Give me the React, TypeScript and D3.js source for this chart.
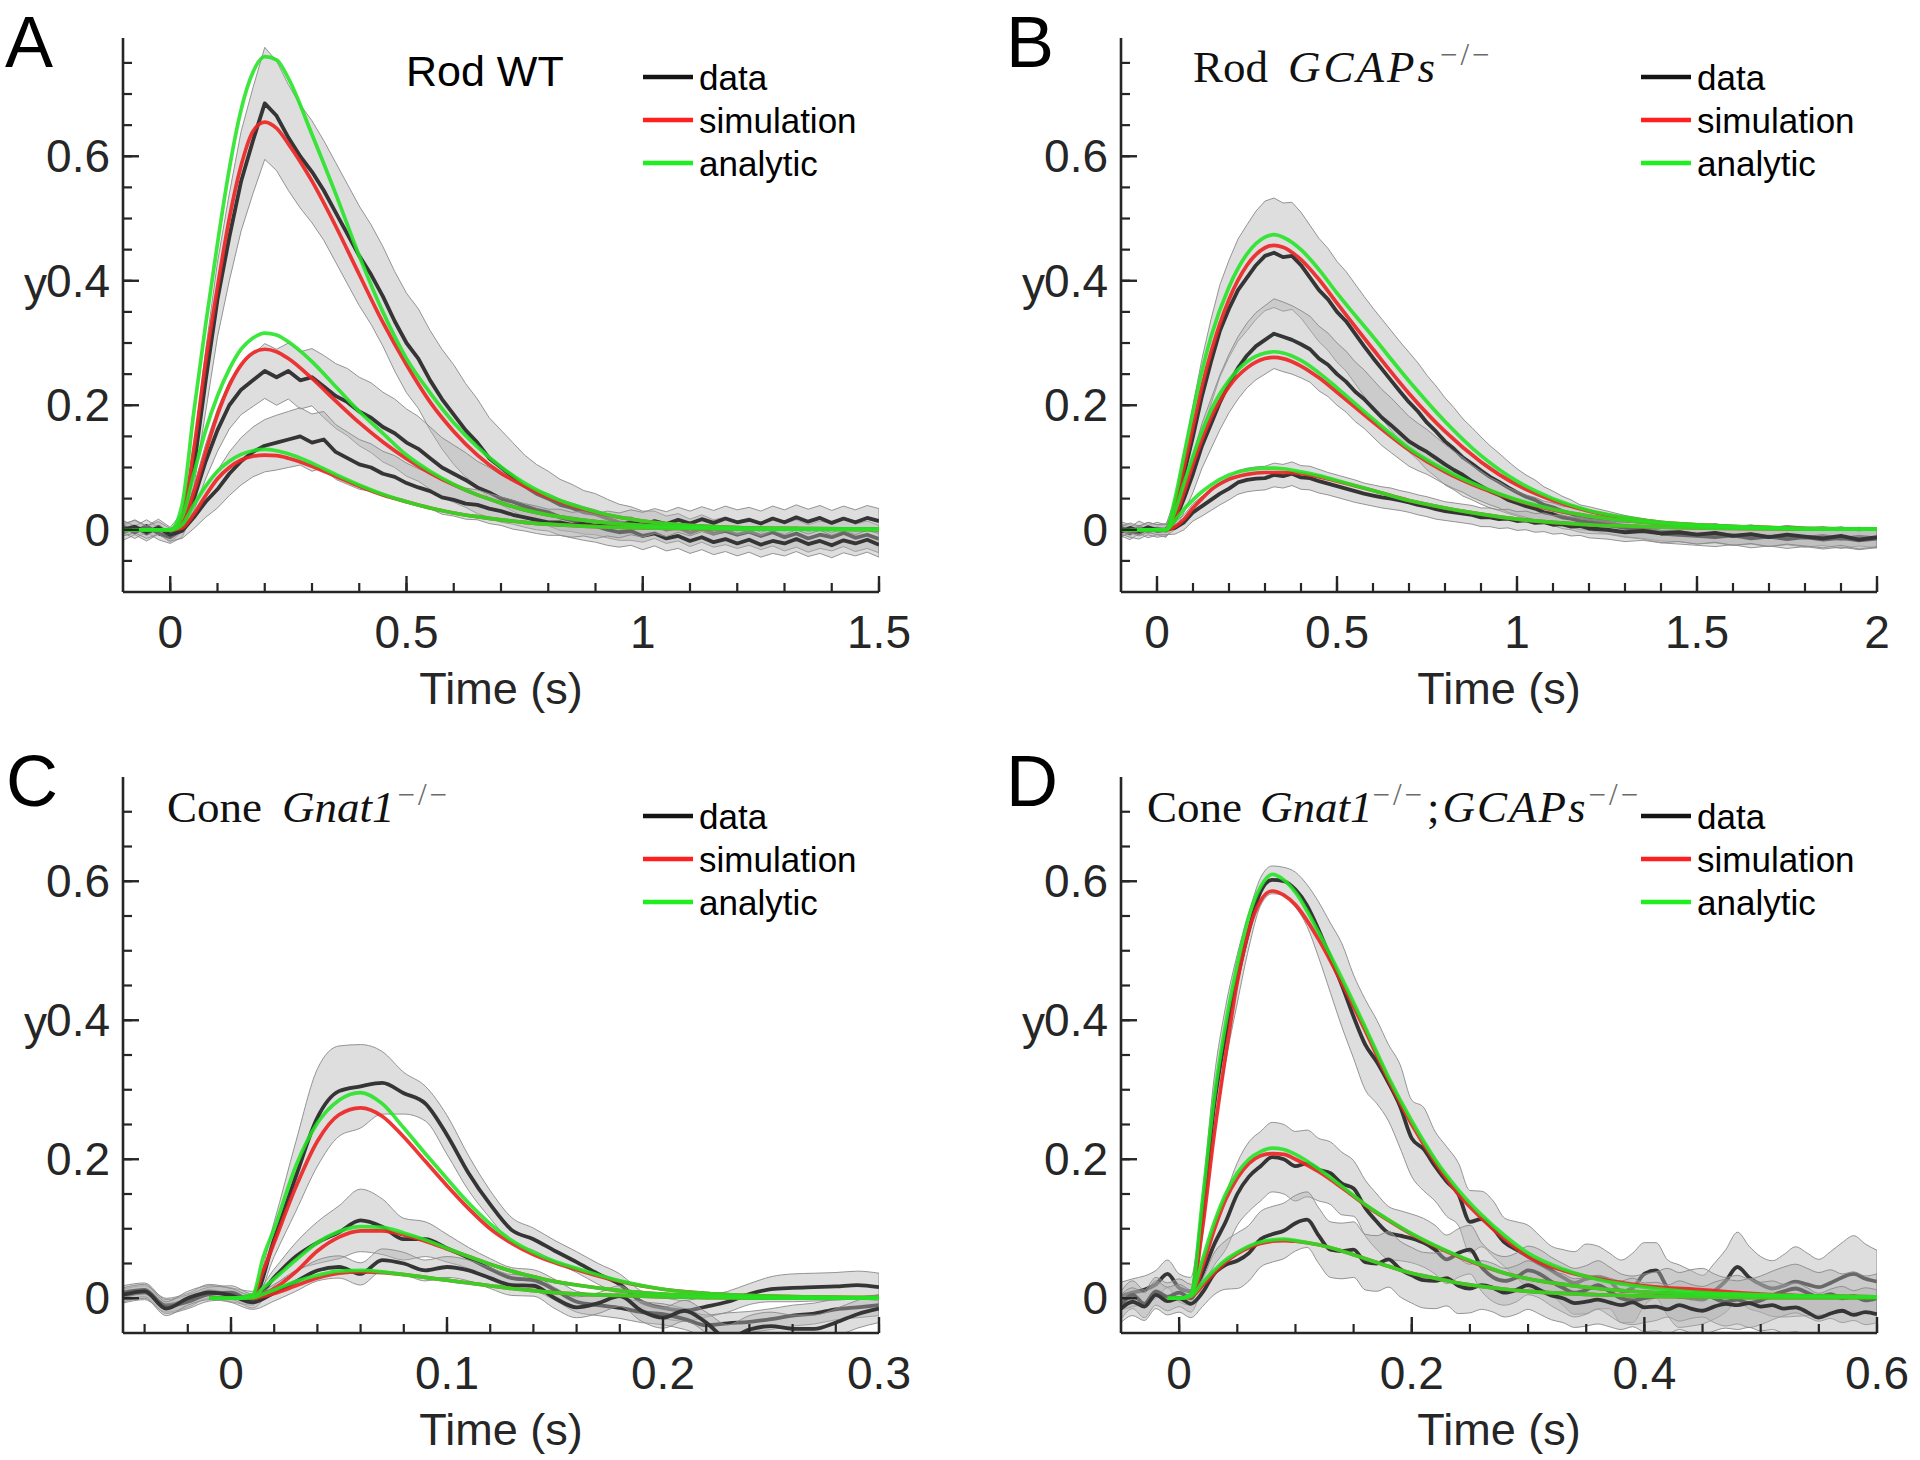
import React from 'react';
import * as d3 from 'd3';

// ---------------- Panel A : Rod WT ----------------
const tA = [
  -0.1, -0.075, -0.05, -0.025, 0, 0.025, 0.05, 0.075, 0.1, 0.125,
  0.15, 0.175, 0.2, 0.225, 0.25, 0.275, 0.3, 0.325, 0.35, 0.375,
  0.4, 0.425, 0.45, 0.475, 0.5, 0.525, 0.55, 0.575, 0.6, 0.625,
  0.65, 0.675, 0.7, 0.725, 0.75, 0.775, 0.8, 0.825, 0.85, 0.875,
  0.9, 0.925, 0.95, 0.975, 1.0, 1.025, 1.05, 1.075, 1.1, 1.125,
  1.15, 1.175, 1.2, 1.225, 1.25, 1.275, 1.3, 1.325, 1.35, 1.375,
  1.4, 1.425, 1.45, 1.475, 1.5,
];
const dataA1 = [
  -0.005, 0.004, -0.006, 0.005, -0.008, 0.012, 0.1, 0.24, 0.37, 0.47,
  0.56, 0.625, 0.685, 0.665, 0.63, 0.6, 0.575, 0.545, 0.51, 0.475,
  0.44, 0.41, 0.375, 0.335, 0.3, 0.275, 0.24, 0.21, 0.185, 0.16,
  0.14, 0.115, 0.1, 0.085, 0.07, 0.058, 0.05, 0.04, 0.035, 0.028,
  0.025, 0.018, 0.012, 0.01, 0.005, 0.008, 0.0, 0.004, -0.005, 0.002,
  -0.006, -0.002, -0.008, -0.003, -0.01, -0.004, -0.012, -0.006, -0.014, -0.008,
  -0.012, -0.005, -0.013, -0.008, -0.015,
];
const semA1 = [
  0.012, 0.012, 0.012, 0.012, 0.012, 0.015, 0.03, 0.05, 0.06, 0.07,
  0.08, 0.085, 0.09, 0.088, 0.085, 0.083, 0.082, 0.08, 0.08, 0.08,
  0.08, 0.08, 0.08, 0.08, 0.08, 0.08, 0.08, 0.08, 0.08, 0.075,
  0.07, 0.065, 0.06, 0.055, 0.05, 0.047, 0.044, 0.041, 0.038, 0.035,
  0.033, 0.031, 0.029, 0.027, 0.025, 0.022, 0.022, 0.022, 0.022, 0.022,
  0.022, 0.022, 0.022, 0.022, 0.022, 0.022, 0.022, 0.022, 0.022, 0.022,
  0.022, 0.022, 0.022, 0.022, 0.022,
];
const dataA2 = [
  0.005, -0.004, 0.006, -0.006, -0.012, 0.0, 0.05, 0.11, 0.16, 0.2,
  0.225, 0.24, 0.255, 0.245, 0.255, 0.24, 0.245, 0.23, 0.215, 0.205,
  0.19, 0.18, 0.165, 0.155, 0.14, 0.13, 0.115, 0.1, 0.09, 0.08,
  0.068, 0.06, 0.05, 0.045, 0.038, 0.032, 0.028, 0.02, 0.015, 0.01,
  0.006, 0.0, -0.004, -0.002, -0.01, -0.006, -0.014, -0.01, -0.018, -0.012,
  -0.02, -0.015, -0.022, -0.016, -0.024, -0.018, -0.022, -0.015, -0.023, -0.018,
  -0.025, -0.017, -0.022, -0.016, -0.024,
];
const semA2 = [
  0.01, 0.01, 0.01, 0.01, 0.01, 0.012, 0.02, 0.028, 0.034, 0.038,
  0.04, 0.042, 0.044, 0.045, 0.045, 0.046, 0.046, 0.05, 0.052, 0.054,
  0.055, 0.056, 0.056, 0.055, 0.054, 0.052, 0.05, 0.048, 0.046, 0.044,
  0.042, 0.04, 0.038, 0.036, 0.034, 0.032, 0.03, 0.029, 0.028, 0.027,
  0.026, 0.025, 0.024, 0.023, 0.022, 0.02, 0.02, 0.02, 0.02, 0.02,
  0.02, 0.02, 0.02, 0.02, 0.02, 0.02, 0.02, 0.02, 0.02, 0.02,
  0.02, 0.02, 0.02, 0.02, 0.02,
];
const dataA3 = [
  0.0, 0.005, -0.004, 0.003, -0.008, -0.002, 0.02, 0.045, 0.065, 0.09,
  0.11, 0.125, 0.135, 0.14, 0.145, 0.15, 0.14, 0.145, 0.125, 0.115,
  0.105, 0.1, 0.09, 0.085, 0.075, 0.068, 0.062, 0.052, 0.048, 0.042,
  0.04, 0.034, 0.03, 0.024, 0.02, 0.016, 0.012, 0.012, 0.008, 0.01,
  0.006, 0.01, 0.007, 0.012, 0.008, 0.014, 0.009, 0.016, 0.01, 0.017,
  0.011, 0.018, 0.012, 0.016, 0.01, 0.018, 0.012, 0.02, 0.013, 0.019,
  0.011, 0.018, 0.012, 0.019, 0.014,
];
const semA3 = [
  0.01, 0.01, 0.01, 0.01, 0.01, 0.012, 0.018, 0.025, 0.03, 0.035,
  0.038, 0.04, 0.042, 0.044, 0.045, 0.046, 0.046, 0.045, 0.044, 0.042,
  0.04, 0.038, 0.036, 0.034, 0.032, 0.03, 0.028, 0.027, 0.026, 0.025,
  0.024, 0.024, 0.023, 0.023, 0.022, 0.022, 0.021, 0.021, 0.02, 0.02,
  0.02, 0.02, 0.02, 0.02, 0.02, 0.02, 0.02, 0.02, 0.02, 0.02,
  0.02, 0.02, 0.02, 0.02, 0.02, 0.02, 0.02, 0.02, 0.02, 0.02,
  0.02, 0.02, 0.02, 0.02, 0.02,
];
const tmA = [-0.1, 0, 0.025, 0.05, 0.075, 0.1, 0.125, 0.15, 0.175, 0.2, 0.225, 0.25, 0.3, 0.35, 0.4, 0.45, 0.5, 0.55, 0.6, 0.65, 0.7, 0.75, 0.8, 0.9, 1.0, 1.1, 1.2, 1.35, 1.5];
const anaA1 = [0, 0, 0.04, 0.19, 0.33, 0.46, 0.58, 0.675, 0.735, 0.76, 0.755, 0.725, 0.635, 0.54, 0.44, 0.35, 0.275, 0.22, 0.172, 0.133, 0.101, 0.075, 0.055, 0.029, 0.014, 0.007, 0.0035, 0.002, 0.001];
const simA1 = [0, 0, 0.02, 0.13, 0.27, 0.39, 0.5, 0.585, 0.64, 0.655, 0.645, 0.62, 0.56, 0.488, 0.41, 0.333, 0.265, 0.205, 0.158, 0.12, 0.091, 0.07, 0.052, 0.028, 0.014, 0.007, 0.0035, 0.002, 0.001];
const anaA2 = [0, 0, 0.02, 0.09, 0.16, 0.215, 0.258, 0.29, 0.308, 0.316, 0.313, 0.302, 0.27, 0.23, 0.19, 0.155, 0.12, 0.094, 0.073, 0.056, 0.043, 0.032, 0.024, 0.013, 0.007, 0.004, 0.002, 0.001, 0.001];
const simA2 = [0, 0, 0.01, 0.06, 0.125, 0.185, 0.232, 0.265, 0.284, 0.29, 0.286, 0.275, 0.243, 0.207, 0.172, 0.141, 0.114, 0.091, 0.072, 0.056, 0.043, 0.032, 0.024, 0.013, 0.007, 0.004, 0.002, 0.001, 0.001];
const anaA3 = [0, 0, 0.008, 0.04, 0.07, 0.094, 0.11, 0.121, 0.127, 0.129, 0.127, 0.122, 0.107, 0.089, 0.072, 0.057, 0.045, 0.035, 0.027, 0.021, 0.016, 0.012, 0.009, 0.005, 0.003, 0.002, 0.001, 0.001, 0];
const simA3 = [0, 0, 0.003, 0.025, 0.055, 0.082, 0.1, 0.112, 0.118, 0.12, 0.119, 0.115, 0.102, 0.086, 0.07, 0.056, 0.045, 0.035, 0.027, 0.021, 0.016, 0.012, 0.009, 0.005, 0.003, 0.002, 0.001, 0.001, 0];

// ---------------- Panel B : Rod GCAPs-/- ----------------
const tB = [
  -0.1, -0.075, -0.05, -0.025, 0, 0.025, 0.05, 0.075, 0.1, 0.125,
  0.15, 0.175, 0.2, 0.225, 0.25, 0.275, 0.3, 0.325, 0.35, 0.375,
  0.4, 0.425, 0.45, 0.475, 0.5, 0.525, 0.55, 0.575, 0.6, 0.625,
  0.65, 0.675, 0.7, 0.725, 0.75, 0.775, 0.8, 0.825, 0.85, 0.875,
  0.9, 0.925, 0.95, 0.975, 1.0, 1.025, 1.05, 1.075, 1.1, 1.125,
  1.15, 1.175, 1.2, 1.25, 1.3, 1.35, 1.4, 1.45, 1.5, 1.55,
  1.6, 1.65, 1.7, 1.75, 1.8, 1.85, 1.9, 1.95, 2.0,
];
const dataB1 = [
  0.0, -0.006, 0.004, -0.003, 0.002, -0.002, 0.03, 0.09, 0.15, 0.215,
  0.27, 0.32, 0.355, 0.385, 0.405, 0.425, 0.44, 0.445, 0.438, 0.44,
  0.425, 0.405, 0.385, 0.37, 0.35, 0.335, 0.315, 0.295, 0.276, 0.258,
  0.24, 0.222, 0.205, 0.19, 0.172, 0.158, 0.142, 0.13, 0.116, 0.106,
  0.095, 0.085, 0.077, 0.068, 0.06, 0.053, 0.048, 0.04, 0.036, 0.03,
  0.026, 0.02, 0.018, 0.012, 0.006, 0.002, -0.003, -0.004, -0.008, -0.006,
  -0.01, -0.008, -0.012, -0.009, -0.013, -0.01, -0.015, -0.011, -0.014,
];
const semB1 = [
  0.01, 0.01, 0.01, 0.01, 0.01, 0.01, 0.02, 0.035, 0.05, 0.06,
  0.068, 0.074, 0.078, 0.082, 0.085, 0.087, 0.088, 0.088, 0.087, 0.086,
  0.085, 0.084, 0.083, 0.082, 0.081, 0.08, 0.08, 0.08, 0.08, 0.08,
  0.08, 0.08, 0.08, 0.078, 0.076, 0.073, 0.07, 0.066, 0.062, 0.058,
  0.054, 0.05, 0.046, 0.042, 0.038, 0.035, 0.032, 0.029, 0.026, 0.024,
  0.022, 0.02, 0.019, 0.018, 0.017, 0.016, 0.015, 0.015, 0.015, 0.015,
  0.015, 0.015, 0.015, 0.015, 0.015, 0.015, 0.015, 0.015, 0.015,
];
const dataB2 = [
  0.003, -0.002, -0.005, 0.002, -0.002, 0.0, 0.015, 0.05, 0.09, 0.135,
  0.17, 0.205, 0.235, 0.26, 0.28, 0.295, 0.305, 0.315, 0.31, 0.305,
  0.298, 0.29, 0.275, 0.265, 0.25, 0.238, 0.222, 0.21, 0.195, 0.18,
  0.168, 0.155, 0.142, 0.133, 0.125, 0.115, 0.105, 0.096, 0.088, 0.078,
  0.07, 0.062, 0.056, 0.048, 0.043, 0.038, 0.034, 0.028, 0.025, 0.02,
  0.018, 0.014, 0.012, 0.008, 0.003, 0.0, -0.006, -0.008, -0.01, -0.012,
  -0.009, -0.014, -0.011, -0.015, -0.012, -0.016, -0.013, -0.017, -0.014,
];
const semB2 = [
  0.01, 0.01, 0.01, 0.01, 0.01, 0.01, 0.015, 0.022, 0.03, 0.036,
  0.04, 0.044, 0.047, 0.05, 0.052, 0.054, 0.055, 0.056, 0.056, 0.055,
  0.054, 0.053, 0.052, 0.051, 0.05, 0.049, 0.048, 0.047, 0.046, 0.045,
  0.044, 0.042, 0.04, 0.038, 0.036, 0.034, 0.032, 0.03, 0.028, 0.026,
  0.024, 0.022, 0.021, 0.02, 0.019, 0.018, 0.018, 0.018, 0.018, 0.018,
  0.018, 0.018, 0.018, 0.015, 0.015, 0.015, 0.015, 0.015, 0.015, 0.015,
  0.015, 0.015, 0.015, 0.015, 0.015, 0.015, 0.015, 0.015, 0.015,
];
const dataB3 = [
  -0.003, 0.003, -0.002, 0.004, 0.0, 0.0, 0.003, 0.012, 0.028, 0.038,
  0.048, 0.058, 0.066, 0.076, 0.08, 0.082, 0.083, 0.088, 0.086, 0.09,
  0.084, 0.083, 0.078, 0.074, 0.07, 0.066, 0.062, 0.058, 0.055, 0.052,
  0.05, 0.047, 0.044, 0.04, 0.037, 0.033, 0.03, 0.028, 0.026, 0.024,
  0.02, 0.02, 0.017, 0.018, 0.014, 0.015, 0.011, 0.012, 0.008, 0.009,
  0.005, 0.006, 0.002, 0.0, -0.004, -0.002, -0.006, -0.004, -0.008, -0.005,
  -0.01, -0.007, -0.012, -0.008, -0.011, -0.014, -0.01, -0.016, -0.012,
];
const semB3 = [
  0.008, 0.008, 0.008, 0.008, 0.008, 0.008, 0.01, 0.012, 0.014, 0.016,
  0.017, 0.018, 0.018, 0.019, 0.019, 0.019, 0.019, 0.019, 0.019, 0.019,
  0.019, 0.019, 0.019, 0.018, 0.018, 0.018, 0.018, 0.017, 0.017, 0.017,
  0.017, 0.016, 0.016, 0.016, 0.016, 0.016, 0.015, 0.015, 0.015, 0.015,
  0.015, 0.015, 0.015, 0.015, 0.015, 0.015, 0.015, 0.015, 0.015, 0.015,
  0.015, 0.015, 0.015, 0.015, 0.015, 0.015, 0.015, 0.015, 0.015, 0.015,
  0.015, 0.015, 0.015, 0.015, 0.015, 0.015, 0.015, 0.015, 0.015,
];
const tmB = [-0.1, 0, 0.025, 0.05, 0.075, 0.1, 0.125, 0.15, 0.2, 0.25, 0.3, 0.325, 0.35, 0.4, 0.45, 0.5, 0.6, 0.7, 0.8, 0.9, 1.0, 1.1, 1.2, 1.3, 1.4, 1.5, 1.6, 1.8, 2.0];
const anaB1 = [0, 0, 0, 0.05, 0.12, 0.19, 0.255, 0.31, 0.39, 0.443, 0.47, 0.474, 0.47, 0.45, 0.418, 0.38, 0.31, 0.239, 0.174, 0.119, 0.078, 0.05, 0.031, 0.02, 0.012, 0.008, 0.005, 0.002, 0.001];
const simB1 = [0, 0, 0, 0.04, 0.1, 0.165, 0.23, 0.285, 0.37, 0.425, 0.453, 0.457, 0.454, 0.434, 0.402, 0.364, 0.29, 0.219, 0.158, 0.109, 0.072, 0.047, 0.03, 0.019, 0.012, 0.008, 0.005, 0.002, 0.001];
const anaB2 = [0, 0, 0, 0.03, 0.075, 0.118, 0.158, 0.192, 0.24, 0.27, 0.284, 0.286, 0.284, 0.272, 0.252, 0.228, 0.178, 0.131, 0.096, 0.069, 0.048, 0.033, 0.022, 0.015, 0.01, 0.007, 0.005, 0.002, 0.001];
const simB2 = [0, 0, 0, 0.02, 0.06, 0.105, 0.145, 0.18, 0.23, 0.26, 0.275, 0.277, 0.275, 0.263, 0.244, 0.221, 0.173, 0.128, 0.093, 0.067, 0.047, 0.032, 0.022, 0.015, 0.01, 0.007, 0.005, 0.002, 0.001];
const anaB3 = [0, 0, 0, 0.015, 0.033, 0.048, 0.061, 0.072, 0.088, 0.096, 0.099, 0.099, 0.098, 0.093, 0.087, 0.079, 0.063, 0.047, 0.035, 0.025, 0.017, 0.012, 0.008, 0.006, 0.004, 0.003, 0.002, 0.001, 0.001];
const simB3 = [0, 0, 0, 0.005, 0.017, 0.035, 0.05, 0.064, 0.081, 0.089, 0.092, 0.092, 0.092, 0.09, 0.085, 0.078, 0.063, 0.047, 0.035, 0.025, 0.017, 0.012, 0.008, 0.006, 0.004, 0.003, 0.002, 0.001, 0.001];

// ---------------- Panel C : Cone Gnat1-/- ----------------
const tC = [
  -0.05, -0.04, -0.03, -0.02, -0.01, 0, 0.01, 0.02, 0.03, 0.04,
  0.05, 0.06, 0.07, 0.08, 0.09, 0.1, 0.11, 0.12, 0.13, 0.14,
  0.15, 0.16, 0.17, 0.18, 0.19, 0.2, 0.21, 0.22, 0.23, 0.24,
  0.25, 0.26, 0.27, 0.28, 0.29, 0.3,
];
const dataC1 = [
  0.003, 0.008, -0.01, -0.003, 0.01, 0.005, 0.0, 0.085, 0.175, 0.26,
  0.298, 0.305, 0.31, 0.295, 0.28, 0.235, 0.18, 0.135, 0.098, 0.085,
  0.068, 0.052, 0.035, 0.02, -0.005, -0.014, -0.018, -0.012, -0.005, 0.006,
  0.013, 0.015, 0.016, 0.017, 0.019, 0.016,
];
const semC1 = [
  0.01, 0.01, 0.01, 0.01, 0.01, 0.01, 0.01, 0.025, 0.05, 0.07,
  0.065, 0.06, 0.045, 0.03, 0.025, 0.028, 0.025, 0.02, 0.018, 0.016,
  0.015, 0.015, 0.015, 0.015, 0.015, 0.015, 0.015, 0.015, 0.015, 0.015,
  0.018, 0.02, 0.02, 0.02, 0.02, 0.02,
];
const dataC2 = [
  0.008, 0.012, -0.012, -0.005, 0.006, 0.008, -0.004, 0.03, 0.06, 0.08,
  0.095, 0.112, 0.103, 0.085, 0.085, 0.072, 0.058, 0.042, 0.029, 0.026,
  0.012, -0.005, -0.01, -0.014, -0.02, -0.023, -0.03, -0.039, -0.036, -0.034,
  -0.03, -0.025, -0.022, -0.016, -0.013, -0.01,
];
const semC2 = [
  0.01, 0.01, 0.01, 0.01, 0.01, 0.01, 0.01, 0.012, 0.02, 0.03,
  0.038, 0.045, 0.04, 0.03, 0.025, 0.02, 0.015, 0.015, 0.015, 0.015,
  0.015, 0.015, 0.015, 0.015, 0.015, 0.015, 0.015, 0.015, 0.015, 0.015,
  0.015, 0.015, 0.015, 0.015, 0.015, 0.015,
];
const dataC3 = [
  0.005, 0.01, -0.015, 0.0, 0.008, 0.004, -0.006, 0.008, 0.024, 0.04,
  0.045, 0.035, 0.055, 0.05, 0.04, 0.045, 0.04, 0.029, 0.019, 0.018,
  0.0, -0.013, -0.007, 0.003, -0.018, -0.028, -0.018, -0.035, -0.058, -0.045,
  -0.04, -0.044, -0.044, -0.035, -0.023, -0.015,
];
const semC3 = [
  0.01, 0.01, 0.01, 0.01, 0.01, 0.01, 0.01, 0.012, 0.014, 0.015,
  0.016, 0.016, 0.016, 0.016, 0.015, 0.015, 0.015, 0.015, 0.015, 0.015,
  0.015, 0.015, 0.015, 0.015, 0.015, 0.015, 0.015, 0.015, 0.02, 0.02,
  0.02, 0.02, 0.02, 0.02, 0.02, 0.02,
];
const tmC = [-0.01, 0, 0.01, 0.015, 0.02, 0.03, 0.04, 0.05, 0.06, 0.07, 0.08, 0.09, 0.1, 0.11, 0.12, 0.13, 0.14, 0.15, 0.16, 0.18, 0.2, 0.22, 0.25, 0.3];
const anaC1 = [0, 0, 0.005, 0.06, 0.1, 0.19, 0.252, 0.285, 0.296, 0.28, 0.245, 0.208, 0.172, 0.137, 0.107, 0.083, 0.066, 0.053, 0.043, 0.025, 0.013, 0.007, 0.003, 0.001];
const simC1 = [0, 0, 0.003, 0.04, 0.08, 0.16, 0.226, 0.264, 0.274, 0.262, 0.232, 0.197, 0.162, 0.129, 0.1, 0.079, 0.063, 0.051, 0.041, 0.024, 0.013, 0.007, 0.003, 0.001];
const anaC2 = [0, 0, 0.002, 0.015, 0.028, 0.055, 0.08, 0.096, 0.103, 0.102, 0.094, 0.084, 0.072, 0.06, 0.049, 0.039, 0.031, 0.024, 0.019, 0.011, 0.006, 0.003, 0.001, 0];
const simC2 = [0, 0, 0.001, 0.006, 0.014, 0.038, 0.068, 0.088, 0.097, 0.097, 0.091, 0.082, 0.071, 0.06, 0.049, 0.039, 0.031, 0.024, 0.019, 0.011, 0.006, 0.003, 0.001, 0];
const anaC3 = [0, 0, 0.001, 0.006, 0.012, 0.024, 0.033, 0.039, 0.04, 0.038, 0.034, 0.03, 0.026, 0.022, 0.018, 0.014, 0.011, 0.008, 0.006, 0.004, 0.002, 0.001, 0, 0];
const simC3 = [0, 0, 0, 0.003, 0.007, 0.018, 0.029, 0.036, 0.038, 0.037, 0.034, 0.03, 0.026, 0.022, 0.018, 0.014, 0.011, 0.008, 0.006, 0.004, 0.002, 0.001, 0, 0];

// ---------------- Panel D : Cone Gnat1-/-;GCAPs-/- ----------------
const tD = [
  -0.05, -0.04, -0.03, -0.02, -0.01, 0, 0.01, 0.02, 0.03, 0.04,
  0.05, 0.06, 0.07, 0.08, 0.09, 0.1, 0.11, 0.12, 0.13, 0.14,
  0.15, 0.16, 0.17, 0.18, 0.19, 0.2, 0.21, 0.22, 0.23, 0.24,
  0.25, 0.26, 0.27, 0.28, 0.29, 0.3, 0.31, 0.32, 0.33, 0.34,
  0.35, 0.36, 0.37, 0.38, 0.39, 0.4, 0.41, 0.42, 0.43, 0.44,
  0.45, 0.46, 0.47, 0.48, 0.49, 0.5, 0.51, 0.52, 0.53, 0.54,
  0.55, 0.56, 0.57, 0.58, 0.59, 0.6,
];
const dataD1 = [
  0.003, 0.008, 0.012, 0.02, 0.035, 0.015, 0.01, 0.12, 0.276, 0.38,
  0.46, 0.53, 0.585, 0.602, 0.6, 0.588, 0.565, 0.53, 0.49, 0.45,
  0.405, 0.365, 0.34, 0.31, 0.276, 0.23, 0.215, 0.19, 0.168, 0.15,
  0.11, 0.114, 0.1, 0.08, 0.07, 0.06, 0.05, 0.04, 0.03, 0.022,
  0.028, 0.03, 0.025, 0.01, 0.015, 0.035, 0.04, 0.015, 0.003, 0.0,
  -0.002, 0.01, 0.025, 0.045, 0.03, 0.02, 0.014, 0.018, 0.024, 0.02,
  0.016, 0.022, 0.03, 0.035, 0.028, 0.024,
];
const semD1 = [
  0.02, 0.02, 0.02, 0.02, 0.02, 0.02, 0.02, 0.03, 0.04, 0.04,
  0.035, 0.025, 0.02, 0.02, 0.02, 0.025, 0.03, 0.04, 0.05, 0.06,
  0.06, 0.065, 0.06, 0.055, 0.06, 0.055, 0.06, 0.05, 0.05, 0.045,
  0.045, 0.04, 0.04, 0.035, 0.04, 0.045, 0.04, 0.035, 0.04, 0.045,
  0.05, 0.045, 0.04, 0.045, 0.05, 0.045, 0.04, 0.04, 0.045, 0.04,
  0.035, 0.04, 0.045, 0.05, 0.045, 0.04, 0.04, 0.045, 0.05, 0.045,
  0.04, 0.045, 0.05, 0.055, 0.05, 0.045,
];
const dataD2 = [
  -0.01, 0.005, -0.008, 0.01, 0.002, 0.008, 0.0, 0.035, 0.077, 0.11,
  0.15, 0.175, 0.19, 0.203, 0.2, 0.19, 0.194, 0.185, 0.18, 0.165,
  0.158, 0.13, 0.11, 0.094, 0.09, 0.086, 0.08, 0.07, 0.056, 0.065,
  0.07, 0.045, 0.03, 0.025, 0.03, 0.04, 0.035, 0.024, 0.015, 0.008,
  0.012, 0.019, 0.01, 0.0, -0.003, 0.0, 0.003, 0.008, 0.002, 0.006,
  0.008, 0.0, -0.005, -0.002, -0.007, -0.003, 0.004, 0.01, 0.014, 0.008,
  0.002, 0.006, 0.0, 0.003, -0.003, 0.0,
];
const semD2 = [
  0.02, 0.02, 0.02, 0.02, 0.02, 0.02, 0.02, 0.02, 0.03, 0.04,
  0.045, 0.05, 0.05, 0.05, 0.05, 0.05, 0.048, 0.045, 0.045, 0.045,
  0.04, 0.04, 0.04, 0.038, 0.036, 0.035, 0.035, 0.035, 0.035, 0.035,
  0.035, 0.035, 0.035, 0.035, 0.035, 0.035, 0.035, 0.035, 0.035, 0.035,
  0.035, 0.035, 0.035, 0.035, 0.035, 0.035, 0.035, 0.035, 0.035, 0.035,
  0.035, 0.035, 0.035, 0.035, 0.035, 0.035, 0.035, 0.035, 0.035, 0.035,
  0.035, 0.035, 0.035, 0.035, 0.035, 0.035,
];
const dataD3 = [
  -0.015, -0.005, -0.012, 0.005, -0.004, 0.0, -0.008, 0.008, 0.035, 0.048,
  0.054, 0.065, 0.085, 0.092, 0.097, 0.108, 0.113, 0.09, 0.07, 0.068,
  0.07, 0.052, 0.05, 0.056, 0.042, 0.033, 0.026, 0.025, 0.029, 0.018,
  0.014, 0.019, 0.015, 0.008, 0.012, 0.019, 0.012, 0.004, 0.0, -0.007,
  -0.005, -0.002, -0.006, -0.01, -0.006, -0.013, -0.012, -0.016, -0.01, -0.015,
  -0.018, -0.012, -0.008, -0.01, -0.007, -0.012, -0.01, -0.015, -0.013, -0.02,
  -0.028, -0.022, -0.018, -0.024, -0.02, -0.023,
];
const semD3 = [
  0.02, 0.02, 0.02, 0.02, 0.02, 0.02, 0.02, 0.02, 0.03, 0.035,
  0.04, 0.04, 0.04, 0.04, 0.04, 0.04, 0.04, 0.04, 0.04, 0.04,
  0.04, 0.04, 0.04, 0.04, 0.04, 0.04, 0.04, 0.04, 0.04, 0.04,
  0.035, 0.035, 0.035, 0.035, 0.035, 0.035, 0.035, 0.035, 0.035, 0.035,
  0.035, 0.035, 0.035, 0.035, 0.035, 0.035, 0.035, 0.035, 0.035, 0.035,
  0.035, 0.035, 0.035, 0.035, 0.035, 0.035, 0.035, 0.035, 0.035, 0.035,
  0.035, 0.035, 0.035, 0.035, 0.035, 0.035,
];
const tmD = [-0.01, 0, 0.01, 0.02, 0.03, 0.04, 0.05, 0.06, 0.07, 0.08, 0.09, 0.1, 0.12, 0.14, 0.16, 0.18, 0.2, 0.22, 0.24, 0.26, 0.28, 0.3, 0.33, 0.36, 0.4, 0.45, 0.5, 0.6];
const anaD1 = [0, 0, 0.005, 0.14, 0.287, 0.395, 0.48, 0.55, 0.592, 0.61, 0.602, 0.584, 0.526, 0.46, 0.39, 0.318, 0.255, 0.2, 0.156, 0.12, 0.09, 0.065, 0.042, 0.027, 0.016, 0.008, 0.005, 0.002];
const simD1 = [0, 0, 0.003, 0.1, 0.234, 0.35, 0.455, 0.53, 0.572, 0.586, 0.58, 0.566, 0.516, 0.453, 0.385, 0.314, 0.25, 0.196, 0.15, 0.115, 0.085, 0.06, 0.04, 0.028, 0.018, 0.012, 0.006, 0.002];
const anaD2 = [0, 0, 0.005, 0.055, 0.108, 0.15, 0.18, 0.2, 0.211, 0.216, 0.214, 0.207, 0.186, 0.161, 0.135, 0.113, 0.093, 0.076, 0.061, 0.048, 0.036, 0.028, 0.02, 0.014, 0.009, 0.006, 0.004, 0.002];
const simD2 = [0, 0, 0.003, 0.045, 0.098, 0.142, 0.173, 0.194, 0.205, 0.208, 0.207, 0.2, 0.182, 0.159, 0.134, 0.112, 0.092, 0.075, 0.06, 0.047, 0.036, 0.028, 0.02, 0.014, 0.009, 0.006, 0.004, 0.002];
const anaD3 = [0, 0, 0.003, 0.022, 0.04, 0.055, 0.066, 0.075, 0.081, 0.084, 0.085, 0.083, 0.077, 0.068, 0.057, 0.046, 0.036, 0.029, 0.022, 0.017, 0.013, 0.01, 0.007, 0.005, 0.003, 0.002, 0.001, 0.001];
const simD3 = [0, 0, 0.002, 0.018, 0.036, 0.052, 0.064, 0.073, 0.079, 0.082, 0.083, 0.082, 0.077, 0.068, 0.057, 0.046, 0.036, 0.029, 0.022, 0.017, 0.013, 0.01, 0.007, 0.005, 0.003, 0.002, 0.001, 0.001];

// ---------------- axes / labels ----------------
const yTickVals = [0, 0.2, 0.4, 0.6];
const yTickLabels = ['0', '0.2', '0.4', '0.6'];
const xTicksA = [0, 0.5, 1, 1.5];
const xLabelsA = ['0', '0.5', '1', '1.5'];
const xTicksB = [0, 0.5, 1, 1.5, 2];
const xLabelsB = ['0', '0.5', '1', '1.5', '2'];
const xTicksC = [0, 0.1, 0.2, 0.3];
const xLabelsC = ['0', '0.1', '0.2', '0.3'];
const xTicksD = [0, 0.2, 0.4, 0.6];
const xLabelsD = ['0', '0.2', '0.4', '0.6'];
const legendLabels = ['data', 'simulation', 'analytic'];

const SANS = "'Liberation Sans', Arial, Helvetica, sans-serif";
const SERIF = "'Liberation Serif', 'Times New Roman', serif";
const AX = '#262626';
const BAND = '#b0b0b0';
const BAND_EDGE = '#8a8a8a';
const DATA = '#353535';
const SIM = '#ec2525';
const ANA = '#22e422';
const LEG_COLORS = ['#141414', '#ff1f1f', '#1fee1f'];

function rangeSteps(a: number, b: number, s: number) {
  const out: number[] = [];
  const n = Math.round((b - a) / s);
  for (let i = 0; i <= n; i++) out.push(+(a + i * s).toFixed(6));
  return out;
}

const SUP = { fontSize: 31, fill: '#6a6a6a', letterSpacing: 3, fontStyle: 'normal' as const };

function Panel({ cfg }: { cfg: any }) {
  const { L, R, T, B, id } = cfg;
  const x = d3.scaleLinear().domain(cfg.xDom).range([L, R]);
  const y = d3.scaleLinear().domain(cfg.yDom).range([B, T]);
  const dCurve = cfg.smooth ? d3.curveMonotoneX : d3.curveLinear;
  const lineOf = (ts: number[], vs: number[], curve: any) =>
    d3.line<number>().x((_d, i) => x(ts[i])).y((d) => y(d)).curve(curve)(vs) || '';
  const areaOf = (ts: number[], vs: number[], ss: number[]) =>
    d3.area<number>()
      .x((_d, i) => x(ts[i]))
      .y0((d, i) => y(d - ss[i]))
      .y1((d, i) => y(d + ss[i]))
      .curve(dCurve)(vs) || '';

  const xMinor = rangeSteps(cfg.xMinor[0], cfg.xMinor[1], cfg.xMinor[2]);
  const yMinor = rangeSteps(cfg.yMinor[0], cfg.yMinor[1], cfg.yMinor[2]);
  const MAJ = 16, MIN = 9;

  return (
    <g>
      <defs>
        <clipPath id={`clip-${id}`}>
          <rect x={L} y={T} width={R - L} height={B - T} />
        </clipPath>
      </defs>
      <g clipPath={`url(#clip-${id})`}>
        {cfg.data.map((vs: number[], k: number) => (
          <g key={`d${k}`}>
            <path d={areaOf(cfg.t, vs, cfg.sem[k])} fill={BAND} fillOpacity={0.42} stroke={BAND_EDGE} strokeWidth={1} strokeOpacity={0.9} />
            <path d={lineOf(cfg.t, vs, dCurve)} fill="none" stroke={DATA} strokeWidth={3.8} strokeLinejoin="round" />
          </g>
        ))}
        {cfg.sim.map((vs: number[], k: number) => (
          <path key={`s${k}`} d={lineOf(cfg.tm, vs, d3.curveMonotoneX)} fill="none" stroke={SIM} strokeWidth={3.7} strokeOpacity={0.92} />
        ))}
        {cfg.ana.map((vs: number[], k: number) => (
          <path key={`a${k}`} d={lineOf(cfg.tm, vs, d3.curveMonotoneX)} fill="none" stroke={ANA} strokeWidth={3.7} strokeOpacity={0.88} />
        ))}
      </g>

      {/* axes */}
      <line x1={L} x2={L} y1={T} y2={B} stroke={AX} strokeWidth={2.6} />
      <line x1={L} x2={R} y1={B} y2={B} stroke={AX} strokeWidth={2.6} />
      {xMinor.filter((v) => v > cfg.xDom[0] + 1e-6).map((v) => (
        <line key={`xm${v}`} x1={x(v)} x2={x(v)} y1={B} y2={B - MIN} stroke={AX} strokeWidth={2.2} />
      ))}
      {cfg.xTicks.map((v: number, i: number) => (
        <g key={`xt${v}`}>
          <line x1={x(v)} x2={x(v)} y1={B} y2={B - MAJ} stroke={AX} strokeWidth={2.4} />
          <text x={x(v)} y={B + 56} textAnchor="middle" fontFamily={SANS} fontSize={46} fill={AX}>{cfg.xLabels[i]}</text>
        </g>
      ))}
      {yMinor.filter((v) => v > cfg.yDom[0] + 1e-6).map((v) => (
        <line key={`ym${v}`} x1={L} x2={L + MIN} y1={y(v)} y2={y(v)} stroke={AX} strokeWidth={2.2} />
      ))}
      {yTickVals.map((v, i) => (
        <g key={`yt${v}`}>
          <line x1={L} x2={L + MAJ} y1={y(v)} y2={y(v)} stroke={AX} strokeWidth={2.4} />
          <text x={L - 13} y={y(v) + 16} textAnchor="end" fontFamily={SANS} fontSize={46} fill={AX}>{yTickLabels[i]}</text>
        </g>
      ))}
      <text x={L - 76} y={y(0.4) + 19} textAnchor="end" fontFamily={SANS} fontSize={46} fill={AX}>y</text>
      <text x={(L + R) / 2} y={B + 112} textAnchor="middle" fontFamily={SANS} fontSize={45} fill={AX}>Time (s)</text>

      {/* panel letter */}
      <text x={cfg.letterX} y={cfg.letterY} fontFamily={SANS} fontSize={72} fill="#000">{cfg.letter}</text>

      {/* title */}
      {cfg.title}

      {/* legend */}
      {legendLabels.map((lab, i) => (
        <g key={lab}>
          <line x1={L + 520} x2={L + 570} y1={T + 39 + 43 * i} y2={T + 39 + 43 * i} stroke={LEG_COLORS[i]} strokeWidth={4.5} />
          <text x={L + 576} y={T + 52 + 43 * i} fontFamily={SANS} fontSize={35} fill="#000">{lab}</text>
        </g>
      ))}
    </g>
  );
}

const panelA = {
  id: 'A', L: 123, R: 879, T: 38, B: 592, xDom: [-0.1, 1.5], yDom: [-0.1, 0.79],
  xTicks: xTicksA, xLabels: xLabelsA, xMinor: [0, 1.5, 0.1], yMinor: [-0.05, 0.75, 0.05],
  letter: 'A', letterX: 5, letterY: 67, smooth: false,
  t: tA, data: [dataA1, dataA2, dataA3], sem: [semA1, semA2, semA3],
  tm: tmA, sim: [simA1, simA2, simA3], ana: [anaA1, anaA2, anaA3],
  title: <text x={406} y={86} fontFamily={SANS} fontSize={43} fill="#000">Rod WT</text>,
};
const panelB = {
  id: 'B', L: 1121, R: 1877, T: 38, B: 592, xDom: [-0.1, 2.0], yDom: [-0.1, 0.79],
  xTicks: xTicksB, xLabels: xLabelsB, xMinor: [0, 2.0, 0.1], yMinor: [-0.05, 0.75, 0.05],
  letter: 'B', letterX: 1006, letterY: 67, smooth: false,
  t: tB, data: [dataB1, dataB2, dataB3], sem: [semB1, semB2, semB3],
  tm: tmB, sim: [simB1, simB2, simB3], ana: [anaB1, anaB2, anaB3],
  title: (
    <text x={1193} y={82} fontFamily={SERIF} fontSize={45} fill="#111">
      Rod<tspan dx={20} fontStyle="italic" letterSpacing={3}>GCAPs</tspan>
      <tspan dx={2} dy={-17} {...SUP}>−/−</tspan>
    </text>
  ),
};
const panelC = {
  id: 'C', L: 123, R: 879, T: 777, B: 1333, xDom: [-0.05, 0.3], yDom: [-0.05, 0.75],
  xTicks: xTicksC, xLabels: xLabelsC, xMinor: [-0.04, 0.3, 0.02], yMinor: [0, 0.7, 0.05],
  letter: 'C', letterX: 6, letterY: 806, smooth: true,
  t: tC, data: [dataC1, dataC2, dataC3], sem: [semC1, semC2, semC3],
  tm: tmC, sim: [simC1, simC2, simC3], ana: [anaC1, anaC2, anaC3],
  title: (
    <text x={167} y={822} fontFamily={SERIF} fontSize={45} fill="#111">
      Cone<tspan dx={20} fontStyle="italic">Gnat1</tspan>
      <tspan dx={3} dy={-17} {...SUP}>−/−</tspan>
    </text>
  ),
};
const panelD = {
  id: 'D', L: 1121, R: 1877, T: 777, B: 1333, xDom: [-0.05, 0.6], yDom: [-0.05, 0.75],
  xTicks: xTicksD, xLabels: xLabelsD, xMinor: [0, 0.6, 0.05], yMinor: [0, 0.7, 0.05],
  letter: 'D', letterX: 1006, letterY: 806, smooth: true,
  t: tD, data: [dataD1, dataD2, dataD3], sem: [semD1, semD2, semD3],
  tm: tmD, sim: [simD1, simD2, simD3], ana: [anaD1, anaD2, anaD3],
  title: (
    <text x={1147} y={822} fontFamily={SERIF} fontSize={45} fill="#111">
      Cone<tspan dx={18} fontStyle="italic">Gnat1</tspan>
      <tspan dx={0} dy={-17} {...SUP}>−/−</tspan>
      <tspan dy={17} dx={2}>;</tspan>
      <tspan dx={3} fontStyle="italic" letterSpacing={2}>GCAPs</tspan>
      <tspan dx={1} dy={-17} {...SUP}>−/−</tspan>
    </text>
  ),
};

export default function App() {
  return (
    <svg
      width={1920}
      height={1460}
      viewBox="0 0 1920 1460"
      style={{ position: 'absolute', left: 0, top: 0, background: '#fff' }}
    >
      <rect x={0} y={0} width={1920} height={1460} fill="#fff" />
      {[panelA, panelB, panelC, panelD].map((p) => (
        <Panel key={p.id} cfg={p} />
      ))}
    </svg>
  );
}
